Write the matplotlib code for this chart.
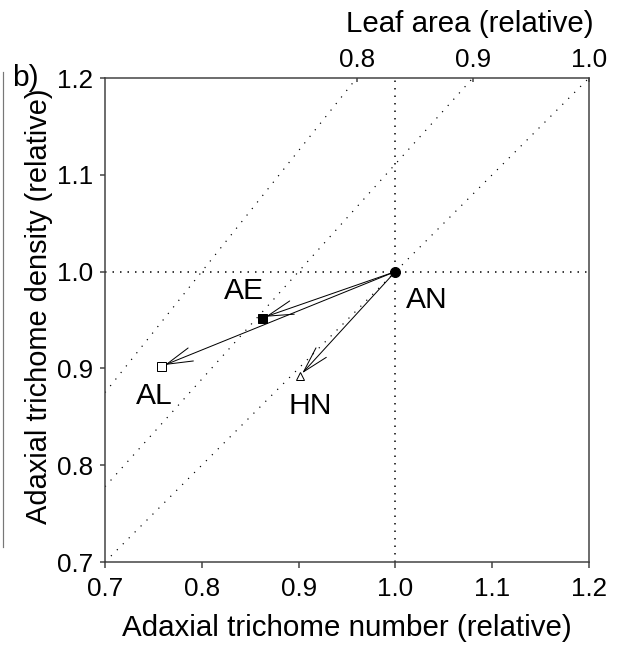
import numpy as np
import matplotlib
matplotlib.use('Agg')
import matplotlib.pyplot as plt
from matplotlib.lines import Line2D

plt.rcParams['font.family'] = ['Liberation Sans', 'DejaVu Sans']

# relative trait values for each treatment (AN = reference)
treatments = ['AN', 'AE', 'AL', 'HN']
trichome_number = [1.0, 0.862, 0.758, 0.901]
trichome_density = [1.0, 0.952, 0.902, 0.892]
markers = ['o', 's', 's', '^']
filled = [True, True, False, False]

# iso-lines of leaf area (number / density)
leaf_area_levels = [0.8, 0.9, 1.0]
leaf_area_ticks = [0.8, 0.9, 1.0]
x_ticks = [0.7, 0.8, 0.9, 1.0, 1.1, 1.2]
y_ticks = [0.7, 0.8, 0.9, 1.0, 1.1, 1.2]

# label placement relative to the point (points, baseline anchored)
label_offsets = {'AN': (31, -36), 'AE': (-18, 19), 'AL': (-7, -38), 'HN': (11, -38)}

DPI = 72
SPINE_COLOR = '#404040'

fig = plt.figure(figsize=(617 / DPI, 653 / DPI), dpi=DPI)
ax = fig.add_axes([105 / 617, 1 - 562 / 653, 484 / 617, 484 / 653])
ax.set_xlim(0.7, 1.2)
ax.set_ylim(0.7, 1.2)

# reference lines
ax.axhline(1.0, color='black', lw=1.5, ls=(0, (1, 4)))
ax.axvline(1.0, color='black', lw=1.5, ls=(0, (1, 4)))
xs = np.array([0.7, 1.2])
for la in leaf_area_levels:
    ax.plot(xs, xs / la, color='black', lw=1.2, ls=(0, (1, 6)))

# arrows from the reference treatment to the others
x0, y0 = trichome_number[0], trichome_density[0]
for name, x, y in zip(treatments[1:], trichome_number[1:], trichome_density[1:]):
    ax.annotate('', xy=(x, y), xytext=(x0, y0),
                arrowprops=dict(arrowstyle='->,head_length=26,head_width=7', mutation_scale=1,
                                color='black', lw=1.0, shrinkA=0, shrinkB=4))

for name, x, y, m, f in zip(treatments, trichome_number, trichome_density, markers, filled):
    size = 10 if m == 'o' else (9 if m == 's' else 8)
    ax.plot(x, y, marker=m, ms=size, mfc='black' if f else 'white', mec='black', mew=1, zorder=5)
    dx, dy = label_offsets[name]
    ax.annotate(name, xy=(x, y), xytext=(dx, dy), textcoords='offset points',
                ha='center', va='baseline', fontsize=30)

for sp in ax.spines.values():
    sp.set_color(SPINE_COLOR)
    sp.set_linewidth(1.5)

ax.set_xticks(x_ticks)
ax.set_yticks(y_ticks)
ax.set_xticklabels([f'{t:.1f}' for t in x_ticks])
ax.set_yticklabels([f'{t:.1f}' for t in y_ticks])
ax.tick_params(axis='x', direction='out', length=6, width=1.5, color=SPINE_COLOR, pad=9, labelsize=26)
ax.tick_params(axis='y', direction='out', length=5, width=1.5, color=SPINE_COLOR, pad=7, labelsize=26)

ax.set_xlabel('Adaxial trichome number (relative)', fontsize=29.5)
ax.xaxis.set_label_coords(0.5, -0.108)
ax.set_ylabel('Adaxial trichome density (relative)', fontsize=29)
ax.yaxis.set_label_coords(-0.107, 0.529)

# top axis: leaf area along the upper edge (y = 1.2)
top = ax.secondary_xaxis('top', functions=(lambda x: x / 1.2, lambda a: a * 1.2))
top.set_xticks(leaf_area_ticks)
top.set_xticklabels([f'{t:.1f}' for t in leaf_area_ticks])
top.tick_params(direction='in', length=4, width=1.5, color=SPINE_COLOR, pad=6, labelsize=26)
top.spines['top'].set_visible(False)
fig.text(470 / 617, 1 - 32 / 653, 'Leaf area (relative)', fontsize=29.5, ha='center', va='baseline')

fig.text(12 / 617, 1 - 86 / 653, 'b)', fontsize=30, va='baseline')
fig.add_artist(Line2D([3 / 617, 3 / 617], [1 - 72 / 653, 1 - 547 / 653], color='#777777', lw=1.2))

fig.savefig('out.png', dpi=DPI)
